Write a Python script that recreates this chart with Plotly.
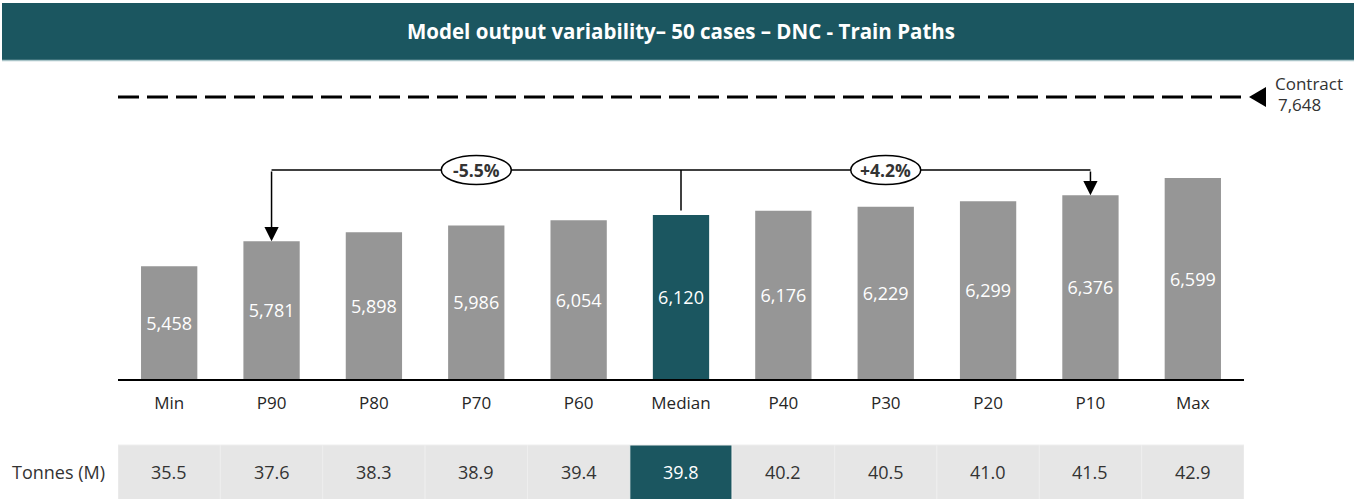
import plotly.graph_objects as go

# ---------------- data ----------------
categories = ["Min", "P90", "P80", "P70", "P60", "Median", "P40", "P30", "P20", "P10", "Max"]
output_values = [5458, 5781, 5898, 5986, 6054, 6120, 6176, 6229, 6299, 6376, 6599]
tonnes_m = [35.5, 37.6, 38.3, 38.9, 39.4, 39.8, 40.2, 40.5, 41.0, 41.5, 42.9]
contract_value = 7648
highlight_cat = "Median"
low_cat = "P90"
high_cat = "P10"
title_text = "Model output variability\u2013 50 cases \u2013 DNC - Train Paths"
row_label = "Tonnes (M)"

# ---------------- style ----------------
TEAL = "#1b5660"
GRAY = "#969696"
CELL = "#e6e6e6"
TXT = "#333333"
FONT = "Open Sans"
W, H = 1362, 499
ML, MR, MT, MB = 118, 118, 60, 120
Y_FLOOR, Y_TOP = 4000, 8126
BRACKET_Y = 6704

idx = list(range(len(categories)))
pw = W - ML - MR
ph = H - MT - MB


def px_x(p):
    return (p - ML) / pw


def px_y(p):
    return (H - MB - p) / ph


def val_to_paper(v):
    return (v - Y_FLOOR) / (Y_TOP - Y_FLOOR)


colors = [TEAL if c == highlight_cat else GRAY for c in categories]
i_med = categories.index(highlight_cat)
i_lo = categories.index(low_cat)
i_hi = categories.index(high_cat)
med = output_values[i_med]

fig = go.Figure()

fig.add_trace(go.Bar(
    x=idx,
    y=[v - Y_FLOOR for v in output_values],
    base=[Y_FLOOR] * len(idx),
    width=0.55,
    marker=dict(color=colors, line=dict(width=0)),
    text=[f"{v:,}" for v in output_values],
    textposition="inside",
    insidetextanchor="middle",
    textangle=0,
    textfont=dict(color="white", size=18, family=FONT),
    hoverinfo="skip",
    showlegend=False,
))

# bracket lines
fig.add_trace(go.Scatter(
    x=[i_lo, i_hi], y=[BRACKET_Y, BRACKET_Y], mode="lines",
    line=dict(color="black", width=1.5), hoverinfo="skip", showlegend=False,
))
fig.add_trace(go.Scatter(
    x=[i_med, i_med], y=[BRACKET_Y, med + 60], mode="lines",
    line=dict(color="black", width=1.5), hoverinfo="skip", showlegend=False,
))

shapes = []
annotations = []

# title banner
shapes.append(dict(type="rect", xref="paper", yref="paper",
                   x0=px_x(2), x1=px_x(1354), y0=px_y(60), y1=px_y(3),
                   fillcolor=TEAL, line=dict(width=0), layer="above"))
shapes.append(dict(type="line", xref="paper", yref="paper",
                   x0=px_x(2), x1=px_x(1354), y0=px_y(60.5), y1=px_y(60.5),
                   line=dict(color="#a9c4c8", width=1.5)))
annotations.append(dict(text=f"<b>{title_text}</b>", xref="paper", yref="paper",
                        x=px_x(681), y=px_y(31), xanchor="center", yanchor="middle",
                        showarrow=False,
                        font=dict(color="white", size=20.5, family=FONT)))

# contract dashed line + pointer
shapes.append(dict(type="line", xref="x", yref="y", x0=-0.5, x1=10.5,
                   y0=contract_value, y1=contract_value,
                   line=dict(color="black", width=3, dash="21px,8px")))
shapes.append(dict(type="path", xref="paper", yref="paper",
                   xsizemode="pixel", ysizemode="pixel",
                   xanchor=1.0, yanchor=val_to_paper(contract_value),
                   path="M 5,0 L 22,10 L 22,-10 Z",
                   fillcolor="black", line=dict(width=0), layer="above"))
annotations.append(dict(text="Contract", xref="paper", yref="paper",
                        x=px_x(1273), y=px_y(83), xanchor="left", yanchor="middle",
                        showarrow=False,
                        font=dict(color=TXT, size=17, family=FONT)))
annotations.append(dict(text=f"{contract_value:,}", xref="paper", yref="paper",
                        x=px_x(1276), y=px_y(105), xanchor="left", yanchor="middle",
                        showarrow=False,
                        font=dict(color=TXT, size=17, family=FONT)))

# bracket arrows
for i in (i_lo, i_hi):
    annotations.append(dict(x=i, y=output_values[i], ax=i, ay=BRACKET_Y,
                            xref="x", yref="y", axref="x", ayref="y",
                            text="", showarrow=True, arrowhead=2, arrowsize=1.9,
                            arrowwidth=1.5, arrowcolor="black", standoff=0))

# percentage ellipses
for i in (i_lo, i_hi):
    pct = (output_values[i] - med) / med * 100
    cx = (i + i_med) / 2
    shapes.append(dict(type="circle", xref="x", yref="y",
                       xsizemode="pixel", ysizemode="pixel",
                       xanchor=cx, yanchor=BRACKET_Y,
                       x0=-35, x1=35, y0=-14.5, y1=14.5,
                       fillcolor="white", line=dict(color="black", width=1.5),
                       layer="above"))
    annotations.append(dict(text=f"<b>{pct:+.1f}%</b>", x=cx, y=BRACKET_Y,
                            xref="x", yref="y", xanchor="center", yanchor="middle",
                            showarrow=False,
                            font=dict(color=TXT, size=17.5, family=FONT)))

# table row
for i, c in enumerate(categories):
    hl = c == highlight_cat
    shapes.append(dict(type="rect", xref="x", yref="paper",
                       x0=i - 0.5, x1=i + 0.5, y0=px_y(500), y1=px_y(445),
                       fillcolor=TEAL if hl else CELL,
                       line=dict(color="#eeeeee", width=1)))
    annotations.append(dict(text=f"{tonnes_m[i]:.1f}", x=i, y=px_y(472),
                            xref="x", yref="paper", xanchor="center", yanchor="middle",
                            showarrow=False,
                            font=dict(color="white" if hl else TXT, size=18, family=FONT)))
annotations.append(dict(text=row_label, xref="paper", yref="paper",
                        x=px_x(107), y=px_y(472), xanchor="right", yanchor="middle",
                        showarrow=False,
                        font=dict(color=TXT, size=18, family=FONT)))

fig.update_layout(
    width=W, height=H,
    margin=dict(l=ML, r=MR, t=MT, b=MB, pad=0),
    paper_bgcolor="white", plot_bgcolor="white",
    shapes=shapes, annotations=annotations,
    bargap=0.45,
    xaxis=dict(range=[-0.5, 10.5], tickvals=idx, ticktext=categories,
               showline=True, linecolor="black", linewidth=2,
               ticks="outside", ticklen=8, tickcolor="rgba(0,0,0,0)",
               showgrid=False, zeroline=False, fixedrange=True,
               tickfont=dict(color="#262626", size=17, family=FONT)),
    yaxis=dict(range=[Y_FLOOR, Y_TOP], visible=False, showgrid=False,
               zeroline=False, fixedrange=True),
    font=dict(family=FONT),
)

fig.write_html("out.html", config={"displayModeBar": False},
               post_script="document.body.style.margin='0';")
